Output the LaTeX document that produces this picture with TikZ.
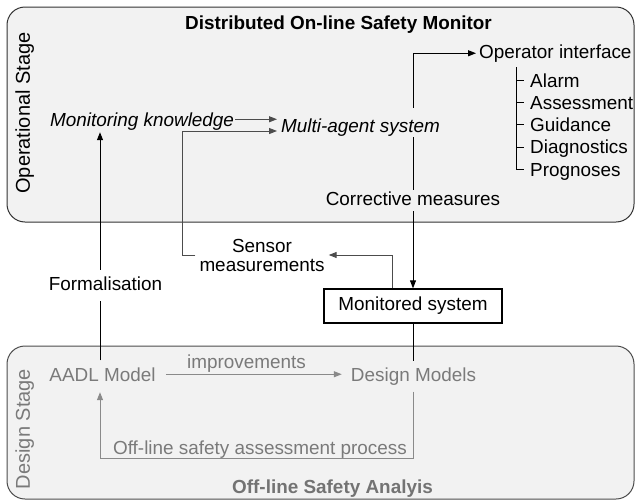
\documentclass[tikz,border=0pt]{standalone}
\usepackage{fontspec}
\setmainfont{Liberation Sans}
\usetikzlibrary{arrows.meta}
\definecolor{panel}{HTML}{F2F2F2}
\definecolor{dimtext}{HTML}{7A7A7A}
\definecolor{dimline}{HTML}{8A8A8A}
\definecolor{edge}{HTML}{333333}

\begin{document}
\begin{tikzpicture}[x=1pt,y=-1pt,
  every node/.style={font=\fontsize{18.9}{17}\selectfont},
  txt/.style={text height=13.5pt, text depth=4pt, inner sep=0pt},
  panelbox/.style={draw=edge, line width=1pt, fill=panel, rounded corners=18pt},
  tip/.style={-{Triangle[length=8pt,width=6pt]}},
  link/.style={line width=1pt, draw=black},
  softlink/.style={line width=1pt, draw=black!70},
  dimlink/.style={line width=1pt, draw=dimline},
  dim/.style={text=dimtext},
  sidelabel/.style={txt, rotate=90, anchor=base, font=\fontsize{20}{20}\selectfont},
]
\useasboundingbox (0,0) rectangle (638,501);

% stage panels
\path[panelbox] (7,7) rectangle (634,222);
\path[panelbox, draw=black!70] (7,346) rectangle (634,499);

% panel titles
\node[txt, anchor=base west, font=\fontsize{18.9}{17}\selectfont\bfseries] (ttop) at (185,29.5) {Distributed On-line Safety Monitor};
\node[txt, anchor=base west, text=black!55, font=\fontsize{18.9}{17}\selectfont\bfseries] (tbot) at (232,493) {Off-line Safety Analyis};
\node[sidelabel] (opstage) at (30,113) {Operational Stage};
\node[sidelabel, dim] (dstage) at (30,429) {Design Stage};

% operational stage
\node[txt, anchor=base west, inner xsep=1pt, inner ysep=2pt, font=\fontsize{18.9}{17}\selectfont\itshape] (mk) at (49,126) {Monitoring knowledge};
\node[txt, anchor=base west, text height=24pt, text depth=5pt, inner xsep=4pt, font=\fontsize{18.9}{17}\selectfont\itshape] (mas) at (277,132) {Multi-agent system};
\node[txt, anchor=base west, inner xsep=3pt, inner ysep=5pt] (oi) at (476,58) {Operator interface};
\coordinate (tree) at ([xshift=40pt]oi.south west);
\node[txt, text depth=0pt, anchor=base west, inner xsep=6pt] (alarm) at (524,87) {Alarm};
\node[txt, text depth=0pt, anchor=base west, inner xsep=6pt] (assess) at (524,109.25) {Assessment};
\node[txt, text depth=0pt, anchor=base west, inner xsep=6pt] (guide) at (524,131.5) {Guidance};
\node[txt, text depth=0pt, anchor=base west, inner xsep=6pt] (diag) at (524,153.75) {Diagnostics};
\node[txt, text depth=0pt, anchor=base west, inner xsep=6pt] (progn) at (524,176) {Prognoses};

% plant
\node[draw, line width=1.3pt, minimum width=178pt, minimum height=34pt, inner sep=0pt] (mon) at (413,306) {Monitored system};
\node[align=center, inner xsep=4pt, inner ysep=0pt, font=\fontsize{18.9}{19}\selectfont] (sm) at (262,255) {Sensor\\measurements};

% design stage
\node[txt, dim, anchor=base, inner xsep=10pt, inner ysep=7pt] (aadl) at (102.5,381) {AADL Model};
\node[txt, dim, anchor=base, inner xsep=9pt, inner ysep=6.5pt] (dm) at (413.5,381) {Design Models};

% connectors
\draw[softlink, tip] ([yshift=2pt]mk.east) -- ([yshift=2pt]mk.east -| mas.west);
\draw[softlink, tip] (sm.west) -- ++(-12.5,0) |- ([yshift=-8.5pt]mas.west);
\draw[link, tip] (mas.north -| mon.north) |- (oi.west);
\draw[link] (tree) |- (alarm.west);
\draw[link] (tree) |- (assess.west);
\draw[link] (tree) |- (guide.west);
\draw[link] (tree) |- (diag.west);
\draw[link] (tree) |- (progn.west);
\draw[link, tip] (mas.south -| mon.north) -- (mon.north);
\draw[softlink, tip] ([xshift=-21pt]mon.north) |- (sm.east);
\draw[link] (mon.south) -- (mon.south |- dm.north);
\draw[link, tip] ([xshift=-2.5pt]aadl.north) -- ([xshift=-2.5pt]aadl.north |- mk.south);
\draw[dimlink, tip] ([yshift=2pt]aadl.east) -- ([yshift=2pt]aadl.east -| dm.west);
\draw[dimlink, tip] (dm.south -| mon.south) -- ++(0,66.5) -| ([xshift=-2.5pt]aadl.south);

% labels sitting on the connectors
\node[txt, anchor=base, fill=panel, inner xsep=1.5pt, inner ysep=1.5pt] (cm) at (413,205) {Corrective measures};
\node[txt, anchor=base, fill=white, inner xsep=2pt, inner ysep=7pt] (form) at (105.5,290) {Formalisation};
\node[txt, dim, anchor=base] (imp) at (246.5,368) {improvements};
\node[txt, dim, anchor=base] (osa) at (260,454) {Off-line safety assessment process};
\end{tikzpicture}
\end{document}
